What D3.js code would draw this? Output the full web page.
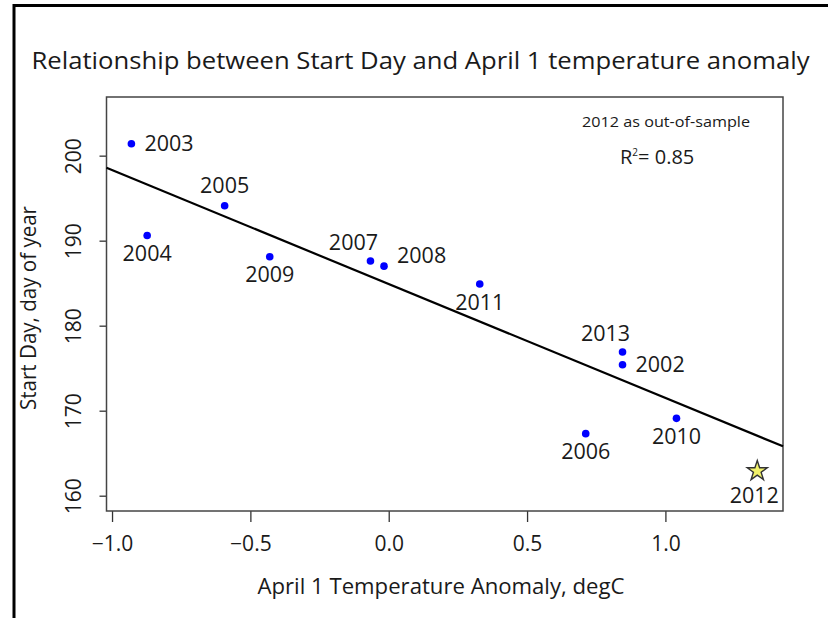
<!DOCTYPE html>
<html>
<head>
<meta charset="utf-8">
<script src="https://cdn.jsdelivr.net/npm/d3@7"></script>
<style>
  body { margin: 0; background: #fff; }
  text { font-family: "Open Sans", sans-serif; fill: #1a1a1a; }
</style>
</head>
<body>
<svg id="chart" width="828" height="618"></svg>
<script>
// values
var years = [2003, 2004, 2005, 2009, 2007, 2008, 2011, 2013, 2002, 2006, 2010, 2012];
var anomaly = [-0.930, -0.873, -0.593, -0.430, -0.066, -0.017, 0.329, 0.845, 0.845, 0.712, 1.040, 1.332];
var startDay = [201.4, 190.6, 194.1, 188.1, 187.6, 187.0, 184.9, 176.9, 175.4, 167.3, 169.1, 162.9];
var labelSide = ["right", "below", "above", "below", "aboveleft", "rightup", "below", "aboveleft", "right", "below", "below", "below"];
var outOfSample = 2012;

// fitted line, startDay = intercept + slope * anomaly
var intercept = 184.9;
var slope = -13.4;

var xTicks = [-1.0, -0.5, 0.0, 0.5, 1.0];
var yTicks = [160, 170, 180, 190, 200];

var title = "Relationship between Start Day and April 1 temperature anomaly";
var xTitle = "April 1 Temperature Anomaly, degC";
var yTitle = "Start Day, day of year";
var note = "2012 as out-of-sample";
var r2 = "0.85";

const svg = d3.select("#chart");
const boxL = 106.5, boxR = 783, boxT = 97, boxB = 511;

const x = d3.scaleLinear().domain([-1.02, 1.425]).range([boxL, boxR]);
const y = d3.scaleLinear().domain([158.2, 206.9]).range([boxB, boxT]);

// outer frame
svg.append("line").attr("x1", 13).attr("x2", 828).attr("y1", 5.5).attr("y2", 5.5)
  .attr("stroke", "#000").attr("stroke-width", 3);
svg.append("line").attr("x1", 14).attr("x2", 14).attr("y1", 4).attr("y2", 618)
  .attr("stroke", "#000").attr("stroke-width", 3);

// title
svg.append("text")
  .attr("x", 31.5).attr("y", 69)
  .attr("font-size", 23.5)
  .attr("textLength", 778).attr("lengthAdjust", "spacingAndGlyphs")
  .text(title);

// axes
const xAxis = svg.append("g")
  .attr("transform", `translate(0,${boxB})`)
  .call(d3.axisBottom(x).tickValues(xTicks).tickFormat(d3.format(".1f")).tickSize(11));
xAxis.select(".domain").remove();
xAxis.selectAll("line").attr("stroke", "#333").attr("stroke-width", 1.3);
xAxis.selectAll("text")
  .attr("y", 40).attr("dy", null)
  .attr("font-size", 21).attr("fill", "#1a1a1a")
  .style("font-family", "Open Sans");

const yAxis = svg.append("g")
  .attr("transform", `translate(${boxL},0)`)
  .call(d3.axisLeft(y).tickValues(yTicks).tickSize(7));
yAxis.select(".domain").remove();
yAxis.selectAll("line").attr("stroke", "#333").attr("stroke-width", 1.3);
yAxis.selectAll("text")
  .attr("x", null).attr("dy", null)
  .attr("text-anchor", "middle")
  .attr("transform", "translate(-26,0) rotate(-90)")
  .attr("font-size", 21).attr("fill", "#1a1a1a")
  .style("font-family", "Open Sans");

svg.append("text")
  .attr("x", 441).attr("y", 594)
  .attr("text-anchor", "middle")
  .attr("font-size", 21)
  .attr("textLength", 367).attr("lengthAdjust", "spacingAndGlyphs")
  .text(xTitle);

svg.append("text")
  .attr("transform", "translate(36,308) rotate(-90)")
  .attr("text-anchor", "middle")
  .attr("font-size", 21)
  .attr("textLength", 204).attr("lengthAdjust", "spacingAndGlyphs")
  .text(yTitle);

// plot box
svg.append("rect")
  .attr("x", boxL).attr("y", boxT)
  .attr("width", boxR - boxL).attr("height", boxB - boxT)
  .attr("fill", "none").attr("stroke", "#444").attr("stroke-width", 1.5);

// regression line across the box
svg.append("line")
  .attr("x1", x(x.domain()[0])).attr("y1", y(intercept + slope * x.domain()[0]))
  .attr("x2", x(x.domain()[1])).attr("y2", y(intercept + slope * x.domain()[1]))
  .attr("stroke", "#000").attr("stroke-width", 2.2);

// points
const rows = years.map((yr, i) => ({year: yr, ax: anomaly[i], day: startDay[i], side: labelSide[i]}));

svg.append("g").selectAll("circle")
  .data(rows.filter(d => d.year != outOfSample))
  .enter()
  .append("circle")
  .attr("cx", d => x(d.ax))
  .attr("cy", d => y(d.day))
  .attr("r", 3.8)
  .attr("fill", "#0000ff");

svg.append("g").selectAll("path")
  .data(rows.filter(d => d.year == outOfSample))
  .enter()
  .append("path")
  .attr("d", d3.symbol().type(d3.symbolStar).size(125))
  .attr("transform", d => `translate(${x(d.ax)},${y(d.day)})`)
  .attr("fill", "#f2f26a")
  .attr("stroke", "#333")
  .attr("stroke-width", 1.4);

// point labels
const shift = {
  right: [13, 0, "start"],
  rightup: [13, -11, "start"],
  below: [0, 18, "middle"],
  above: [0, -20, "middle"],
  aboveleft: [-17, -19, "middle"]
};

svg.append("g").selectAll("text")
  .data(rows)
  .enter()
  .append("text")
  .attr("x", d => x(d.ax) + shift[d.side][0] + (d.year == outOfSample ? -3 : 0))
  .attr("y", d => y(d.day) + shift[d.side][1] + 7.5 + (d.year == outOfSample ? 6 : 0))
  .attr("text-anchor", d => shift[d.side][2])
  .attr("font-size", 21.5)
  .text(d => d.year);

// annotation
svg.append("text")
  .attr("x", 582).attr("y", 127)
  .attr("font-size", 15)
  .attr("textLength", 168).attr("lengthAdjust", "spacingAndGlyphs")
  .text(note);

const rt = svg.append("text")
  .attr("x", 620).attr("y", 164)
  .attr("font-size", 20);
rt.append("tspan").text("R");
rt.append("tspan").attr("font-size", 10).attr("dy", -8).text("2");
rt.append("tspan").attr("dy", 8).text("= " + r2);
</script>
</body>
</html>
